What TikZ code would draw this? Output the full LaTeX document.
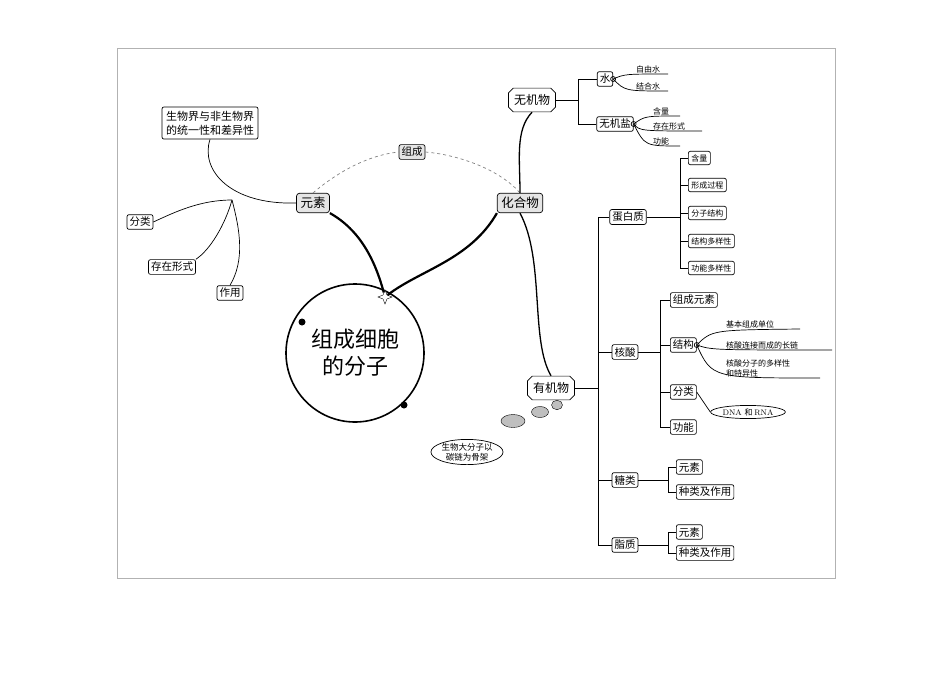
\documentclass[tikz,border=0pt]{standalone}
\usepackage{fontspec}
\newfontfamily\cjk{Noto Sans CJK SC}
\usetikzlibrary{shapes.geometric,shapes.symbols,shapes.misc}
\begin{document}
\begin{tikzpicture}[x=1pt,y=-1pt,font=\cjk\fontsize{10.5}{12}\selectfont,
 bx/.style={draw,rounded corners=2pt,line width=0.7pt,inner sep=2.5pt,fill=white},
 gbx/.style={draw,rounded corners=3pt,line width=0.7pt,fill=gray!20,inner sep=4pt,font=\cjk\fontsize{12.5}{14}\selectfont},
 hx/.style={draw,chamfered rectangle,chamfered rectangle xsep=2pt,line width=0.7pt,fill=white,inner sep=3.5pt,font=\cjk\fontsize{12}{14}\selectfont},
 ul/.style={inner sep=1pt,font=\cjk\fontsize{8}{10}\selectfont},
 ln/.style={line width=0.7pt},
 thick1/.style={line width=2.2pt}]
\useasboundingbox (0,0) rectangle (950,672);
\draw[gray!60] (117,48) rectangle (835,578);
% left part
\node[bx,align=center,font=\cjk\fontsize{11}{14}\selectfont,inner sep=4pt] (bio) at (210,123) {生物界与非生物界\\的统一性和差异性};
\node[gbx] (ys) at (313,203) {元素};
\node[bx,fill=gray!20] (zc) at (412,152) {组成};
\node[gbx] (hhw) at (520,203) {化合物};
\node[bx] (fl) at (140,222) {分类};
\node[bx] (cz) at (172,267) {存在形式};
\node[bx] (zy) at (230,293) {作用};
\coordinate (j) at (232,200);
\draw[ln] (bio.south) .. controls (200,170) and (230,205) .. (ys.west);
\draw[ln] (j) .. controls (200,200) and (175,212) .. (fl.east);
\draw[ln] (j) .. controls (225,225) and (210,250) .. (cz.north east);
\draw[ln] (j) .. controls (240,230) and (245,260) .. (zy.north);
\draw[ln,dashed,gray] (ys.north) .. controls (340,170) and (370,155) .. (zc.west);
\draw[ln,dashed,gray] (zc.east) .. controls (460,155) and (500,170) .. (hhw.north);
% center
\node[circle,draw,line width=1.6pt,minimum size=138,align=center,font=\cjk\fontsize{22}{27}\selectfont] (mol) at (355,353) {组成细胞\\的分子};
\fill (302,322) circle (3.5);
\fill (404,405) circle (3.5);
\node[star,star points=4,star point ratio=2.5,draw,fill=white,inner sep=0pt,minimum size=14] (st) at (385,297) {};
\draw[thick1] (ys.south east) .. controls (360,230) and (375,260) .. (st);
\draw[thick1] (hhw.south west) .. controls (470,260) and (420,270) .. (st);
% inorganic
\node[hx] (wj) at (532,100) {无机物};
\node[bx] (s) at (605,79) {水};
\node[bx] (wjy) at (615,124) {无机盐};
\draw[ln] (wj.east) -- (578,100) (578,79) -- (s.west) (578,124) -- (wjy.west) (578,79) -- (578,124);
\draw[line width=1.3pt] (hhw.north) .. controls (520,160) and (515,130) .. (wj.south);
\node[ul,anchor=south west] (zys) at (635,74) {自由水};
\node[ul,anchor=south west] (jhs) at (635,91) {结合水};
\draw[ln] (s.east) circle (2.5);
\draw[ln] (s.east) .. controls (625,74) .. (668,74);
\draw[ln] (s.east) .. controls (625,91) .. (668,91);
\node[ul,anchor=south west] (hl) at (652,116) {含量};
\node[ul,anchor=south west] (czxs) at (652,131) {存在形式};
\node[ul,anchor=south west] (gn) at (652,146) {功能};
\draw[ln] (wjy.east) circle (2.5);
\draw[ln] (wjy.east) .. controls (645,116) .. (680,116);
\draw[ln] (wjy.east) .. controls (640,131) .. (702,131);
\draw[ln] (wjy.east) .. controls (645,146) .. (680,146);
% organic
\node[hx] (yj) at (551,388) {有机物};
\draw[line width=1.3pt] (hhw.south) .. controls (545,260) and (530,340) .. (yj.north);
\draw[ln] (yj.east) -- (598,388);
\draw[ln] (598,217) -- (598,545);
\node[bx] (dbz) at (628,217) {蛋白质};
\node[bx] (hs) at (625,352) {核酸};
\node[bx] (tl) at (625,480) {糖类};
\node[bx] (zz) at (625,545) {脂质};
\foreach \n/\y in {dbz/217,hs/352,tl/480,zz/545} \draw[ln] (598,\y) -- (\n.west);
% protein
\draw[ln] (dbz.east) -- (680,217);
\draw[ln] (680,158) -- (680,268);
\foreach \t/\y in {含量/158,形成过程/185,分子结构/213,结构多样性/241,功能多样性/268}{
 \node[bx,ul,inner sep=3pt,anchor=west] at (688,\y) {\t};
 \draw[ln] (680,\y) -- ++(8,0);}
% nucleic
\draw[ln] (hs.east) -- (660,352);
\draw[ln] (660,300) -- (660,427);
\node[bx,anchor=west] (zcys) at (670,300) {组成元素};
\node[bx,anchor=west] (jg) at (670,345) {结构};
\node[bx,anchor=west] (fl2) at (670,392) {分类};
\node[bx,anchor=west] (gn2) at (670,427) {功能};
\foreach \n/\y in {zcys/300,jg/345,fl2/392,gn2/427} \draw[ln] (660,\y) -- (\n.west);
\draw[ln] (jg.east) circle (2.5);
\node[ul,anchor=south west] (j1) at (725,329) {基本组成单位};
\node[ul,anchor=south west] (j2) at (725,350) {核酸连接而成的长链};
\node[ul,anchor=south west,align=left] (j3) at (725,378) {核酸分子的多样性\\和特异性};
\draw[ln] (jg.east) .. controls (712,330) .. (800,329);
\draw[ln] (jg.east) .. controls (712,350) .. (832,350);
\draw[ln] (jg.east) .. controls (712,378) .. (820,378);
\node[ellipse,draw,ln,inner sep=1pt,font=\fontsize{8}{9}\selectfont] (dna) at (748,412) {DNA \cjk 和 \rmfamily RNA};
\draw[ln] (fl2.east) -- (dna.west);
% sugar, lipid
\node[bx,anchor=west] (ys1) at (676,467) {元素};
\node[bx,anchor=west] (zl1) at (676,492) {种类及作用};
\node[bx,anchor=west] (ys2) at (676,532) {元素};
\node[bx,anchor=west] (zl2) at (676,553) {种类及作用};
\draw[ln] (tl.east) -- (668,480) (668,467) -- (ys1.west) (668,492) -- (zl1.west) (668,467) -- (668,492);
\draw[ln] (zz.east) -- (668,545) (668,532) -- (ys2.west) (668,553) -- (zl2.west) (668,532) -- (668,553);
% bubbles
\node[ellipse,draw,fill=gray!50,minimum width=24,minimum height=13] (b1) at (513,421) {};
\node[ellipse,draw,fill=gray!50,minimum width=17,minimum height=11] (b2) at (540,412) {};
\node[ellipse,draw,fill=gray!50,minimum width=11,minimum height=9] (b3) at (557,405) {};
\node[ellipse,draw,ln,align=center,inner sep=0pt,font=\cjk\fontsize{8.5}{10}\selectfont] (thought) at (467,452) {生物大分子以\\碳链为骨架};
\end{tikzpicture}
\end{document}
